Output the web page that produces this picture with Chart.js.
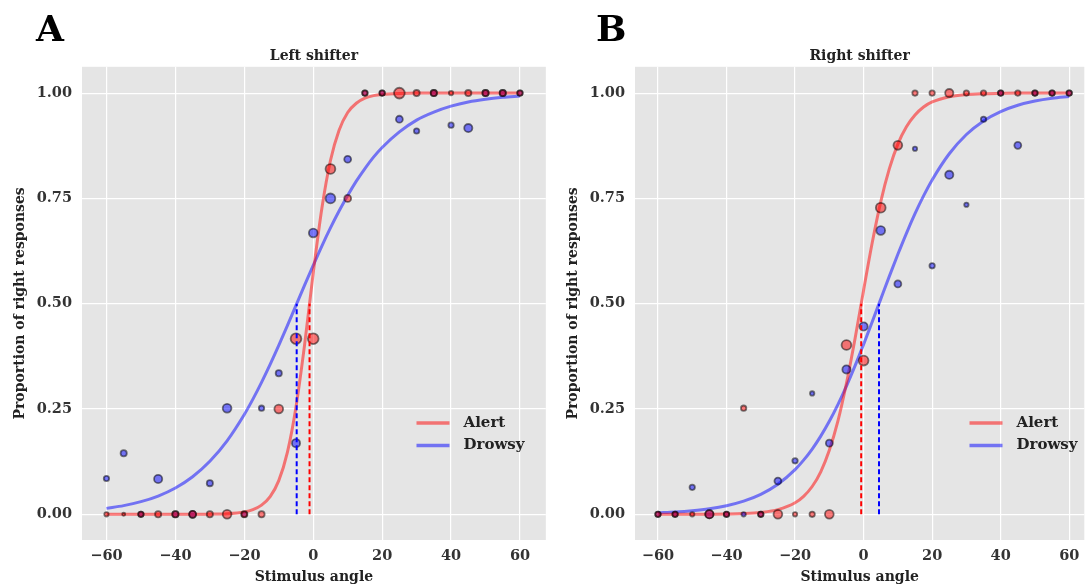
<!DOCTYPE html>
<html>
<head>
<meta charset="utf-8">
<script src="https://cdn.jsdelivr.net/npm/chart.js@4.4.0/dist/chart.umd.min.js"></script>
<style>
html, body { margin: 0; padding: 0; background: #fff; overflow: hidden; }
#wrap { position: relative; width: 1091px; height: 586px; }
canvas { position: absolute; top: 0; }
#left { left: 0; }
#right { left: 553px; }
.panel { position: absolute; top: 9.5px; font-family: 'DejaVu Serif'; font-weight: bold; font-size: 36px; line-height: 1; color: #000; }
</style>
</head>
<body>
<div id="wrap">
  <canvas id="left" width="553" height="586"></canvas>
  <canvas id="right" width="538" height="586"></canvas>
  <div class="panel" style="left:36px">A</div>
  <div class="panel" style="left:596px">B</div>
</div>
<script>
// stimulus angles of the measured points
var angles = [-60, -55, -50, -45, -40, -35, -30, -25, -20, -15, -10, -5, 0, 5, 10, 15, 20, 25, 30, 35, 40, 45, 50, 55, 60];

// left shifter: proportion of right responses and number of trials
var leftAlert = [0, 0, 0, 0, 0, 0, 0, 0, 0, 0, 0.25, 0.417, 0.417, 0.82, 0.75, 1, 1, 1, 1, 1, 1, 1, 1, 1, 1];
var leftAlertN = [2, 1, 3, 4, 4, 5, 4, 8, 4, 4, 8, 12, 12, 10, 5, 3, 3, 12, 4, 4, 2, 4, 4, 4, 3];
var leftDrowsy = [0.085, 0.145, 0, 0.084, 0, 0, 0.074, 0.252, 0, 0.252, 0.335, 0.169, 0.668, 0.75, 0.843, 1, 1, 0.938, 0.91, 1, 0.924, 0.917, 1, 1, 1];
var leftDrowsyN = [3, 4, 3, 7, 4, 5, 4, 8, 3, 3, 4, 7, 8, 10, 5, 3, 3, 5, 3, 4, 3, 7, 4, 4, 3];

// right shifter
var rightAlert = [0, 0, 0, 0, 0, 0.252, 0, 0, 0, 0, 0, 0.402, 0.365, 0.728, 0.876, 1, 1, 1, 1, 1, 1, 1, 1, 1, 1];
var rightAlertN = [3, 3, 2, 7, 3, 3, 3, 8, 2, 3, 8, 10, 10, 10, 8, 3, 3, 7, 3, 3, 3, 3, 3, 3, 3];
var rightDrowsy = [0, 0, 0.064, 0, 0, 0, 0, 0.079, 0.127, 0.287, 0.169, 0.344, 0.446, 0.674, 0.547, 0.868, 0.59, 0.806, 0.735, 0.938, 1, 0.876, 1, 1, 1];
var rightDrowsyN = [3, 3, 3, 7, 3, 2, 3, 5, 3, 2, 5, 7, 7, 8, 5, 2, 3, 7, 2, 3, 3, 5, 3, 3, 3];

// fitted psychometric curves, read at these angles
var curveX = [-60, -55, -50, -45, -40, -35, -30, -25, -20, -17.5, -15, -12.5, -10, -7.5, -5, -2.5, 0, 2.5, 5, 7.5, 10, 12.5, 15, 17.5, 20, 25, 30, 35, 40, 45, 50, 55, 60];
var leftAlertFit = [0, 0, 0, 0, 0, 0.0001, 0.0004, 0.0014, 0.0056, 0.011, 0.0217, 0.042, 0.080, 0.147, 0.255, 0.403, 0.573, 0.726, 0.840, 0.912, 0.954, 0.976, 0.988, 0.994, 0.997, 0.9994, 1, 1, 1, 1, 1, 1, 1];
var leftDrowsyFit = [0.0141, 0.0206, 0.0300, 0.0434, 0.0625, 0.0892, 0.1259, 0.1745, 0.237, 0.2735, 0.3133, 0.356, 0.401, 0.448, 0.496, 0.544, 0.591, 0.637, 0.680, 0.720, 0.757, 0.791, 0.821, 0.848, 0.871, 0.908, 0.936, 0.955, 0.969, 0.979, 0.9855, 0.990, 0.9932];
var rightAlertFit = [0, 0, 0.0001, 0.0003, 0.0007, 0.0017, 0.0044, 0.011, 0.0273, 0.0427, 0.066, 0.101, 0.152, 0.221, 0.311, 0.417, 0.532, 0.644, 0.742, 0.820, 0.879, 0.920, 0.948, 0.967, 0.979, 0.9915, 0.9966, 0.9987, 0.9995, 1, 1, 1, 1];
var rightDrowsyFit = [0.0037, 0.0056, 0.0087, 0.0133, 0.0204, 0.0312, 0.0474, 0.0714, 0.1062, 0.1287, 0.1550, 0.1857, 0.2208, 0.2605, 0.3045, 0.3523, 0.4034, 0.4566, 0.5109, 0.5649, 0.6173, 0.6672, 0.7137, 0.7559, 0.7938, 0.8560, 0.9018, 0.9341, 0.9563, 0.9713, 0.9812, 0.9878, 0.9921];

// 50% thresholds (dashed lines)
var leftThresholds = { alert: -1.07, drowsy: -4.8 };
var rightThresholds = { alert: -0.7, drowsy: 4.5 };

var xTicks = [-60, -40, -20, 0, 20, 40, 60];
var yTicks = [0, 0.25, 0.5, 0.75, 1];

var serif = 'DejaVu Serif';
var redLine = 'rgba(255, 0, 0, 0.5)';
var blueLine = 'rgba(0, 0, 255, 0.5)';

function pairs(xs, ys) {
    return xs.map(function (x, i) { return { x: x, y: ys[i] }; });
}

function radii(ns) {
    return ns.map(function (n) { return 1.55 * Math.sqrt(n); });
}

var bgPlugin = {
    id: 'bg',
    beforeDraw: function (chart) {
        var a = chart.chartArea, c = chart.ctx;
        c.save();
        c.fillStyle = '#e5e5e5';
        c.fillRect(a.left, a.top, a.right - a.left, a.bottom - a.top);
        c.restore();
    }
};

var legendPlugin = {
    id: 'innerLegend',
    afterDraw: function (chart) {
        var a = chart.chartArea, c = chart.ctx;
        var items = [['Alert', redLine], ['Drowsy', blueLine]];
        c.save();
        c.font = 'bold 15px "' + serif + '"';
        c.textBaseline = 'middle';
        items.forEach(function (it, i) {
            var y = a.top + 356.3 + i * 22.4;
            var x = a.left + 334.5;
            c.strokeStyle = it[1];
            c.lineWidth = 3.5;
            c.beginPath();
            c.moveTo(x, y);
            c.lineTo(x + 33, y);
            c.stroke();
            c.fillStyle = '#222';
            c.fillText(it[0], x + 47, y);
        });
        c.restore();
    }
};

function makeChart(id, title, xMin, xMax, padRight, alert, alertN, drowsy, drowsyN, alertFit, drowsyFit, th) {
    var ctx = document.getElementById(id).getContext('2d');
    return new Chart(ctx, {
        type: 'scatter',
        data: {
            datasets: [
                {
                    data: [{ x: th.alert, y: 0 }, { x: th.alert, y: 0.5 }],
                    showLine: true, borderColor: 'rgb(255, 0, 0)', borderWidth: 2,
                    borderDash: [5, 3], pointRadius: 0, order: 0
                },
                {
                    data: [{ x: th.drowsy, y: 0 }, { x: th.drowsy, y: 0.5 }],
                    showLine: true, borderColor: 'rgb(0, 0, 255)', borderWidth: 2,
                    borderDash: [5, 3], pointRadius: 0, order: 0
                },
                {
                    label: 'Alert points',
                    data: pairs(angles, alert),
                    backgroundColor: 'rgba(255, 0, 0, 0.5)',
                    borderColor: 'rgba(0, 0, 0, 0.5)',
                    borderWidth: 1.8,
                    pointRadius: radii(alertN),
                    order: 1
                },
                {
                    label: 'Drowsy points',
                    data: pairs(angles, drowsy),
                    backgroundColor: 'rgba(0, 0, 255, 0.5)',
                    borderColor: 'rgba(0, 0, 0, 0.5)',
                    borderWidth: 1.8,
                    pointRadius: radii(drowsyN),
                    order: 1
                },
                {
                    label: 'Alert',
                    data: pairs(curveX, alertFit),
                    showLine: true, borderColor: redLine, borderWidth: 3,
                    pointRadius: 0, cubicInterpolationMode: 'monotone', order: 2
                },
                {
                    label: 'Drowsy',
                    data: pairs(curveX, drowsyFit),
                    showLine: true, borderColor: blueLine, borderWidth: 3,
                    pointRadius: 0, cubicInterpolationMode: 'monotone', order: 2
                }
            ]
        },
        options: {
            responsive: false,
            animation: false,
            devicePixelRatio: 1,
            layout: { padding: { left: 0, right: padRight, top: 0, bottom: 0 } },
            scales: {
                x: {
                    type: 'linear',
                    min: xMin,
                    max: xMax,
                    afterBuildTicks: function (scale) {
                        scale.ticks = xTicks.map(function (v) { return { value: v }; });
                    },
                    afterFit: function (scale) { scale.height = 46; },
                    grid: { color: '#ffffff', lineWidth: 1.2, drawTicks: false },
                    border: { display: false },
                    ticks: {
                        padding: 8,
                        color: '#333',
                        font: { family: serif, size: 14.5, weight: 'bold' },
                        callback: function (v) { return v < 0 ? '\u2212' + Math.abs(v) : String(v); }
                    },
                    title: {
                        display: true,
                        text: 'Stimulus angle',
                        color: '#222',
                        padding: { top: 0, bottom: 0.5 },
                        font: { family: serif, size: 14, weight: 'bold' }
                    }
                },
                y: {
                    min: -0.061,
                    max: 1.0625,
                    afterBuildTicks: function (scale) {
                        scale.ticks = yTicks.map(function (v) { return { value: v }; });
                    },
                    afterFit: function (scale) { scale.width = 82; },
                    grid: { color: '#ffffff', lineWidth: 1.2, drawTicks: false },
                    border: { display: false },
                    ticks: {
                        padding: 10,
                        color: '#333',
                        font: { family: serif, size: 14.5, weight: 'bold' },
                        callback: function (v) { return v.toFixed(2); }
                    },
                    title: {
                        display: true,
                        text: 'Proportion of right responses',
                        color: '#222',
                        padding: { top: 12, bottom: 0 },
                        font: { family: serif, size: 14, weight: 'bold' }
                    }
                }
            },
            plugins: {
                legend: { display: false },
                tooltip: { enabled: false },
                title: {
                    display: true,
                    text: title,
                    fullSize: false,
                    color: '#222',
                    padding: { top: 48, bottom: 2 },
                    font: { family: serif, size: 14, weight: 'bold' }
                }
            }
        },
        plugins: [bgPlugin, legendPlugin]
    });
}

makeChart('left', 'Left shifter', -67.1, 67.5, 6,
    leftAlert, leftAlertN, leftDrowsy, leftDrowsyN, leftAlertFit, leftDrowsyFit, leftThresholds);
makeChart('right', 'Right shifter', -66.7, 64.4, 0,
    rightAlert, rightAlertN, rightDrowsy, rightDrowsyN, rightAlertFit, rightDrowsyFit, rightThresholds);
</script>
</body>
</html>
